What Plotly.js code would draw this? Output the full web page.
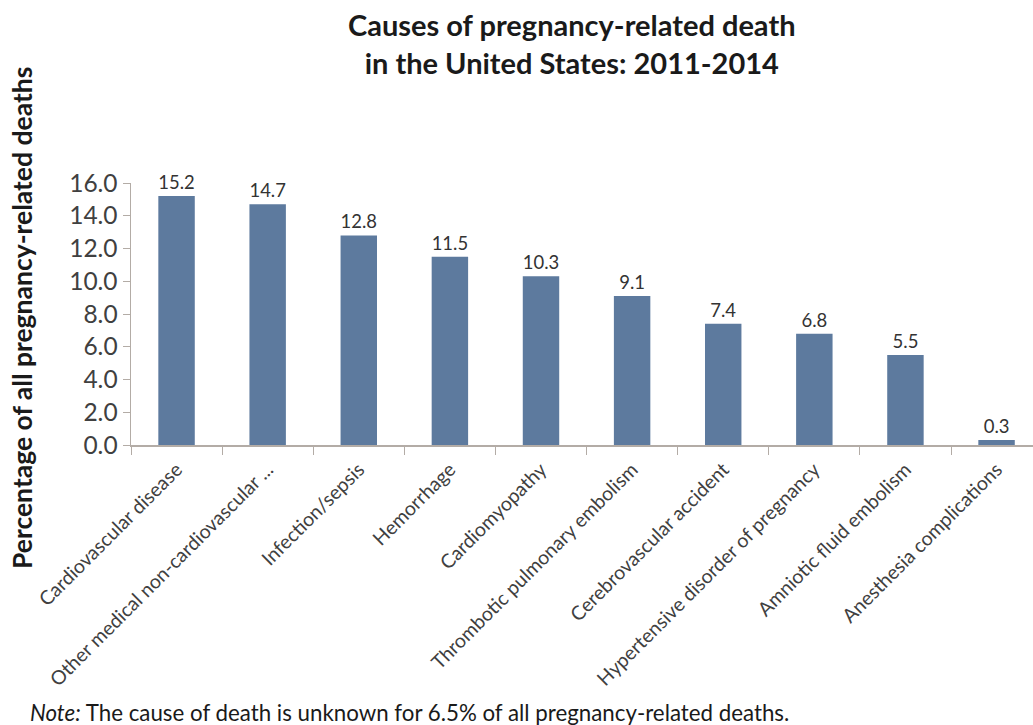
<!DOCTYPE html>
<html>
<head>
<meta charset="utf-8">
<script src="https://cdn.plot.ly/plotly-3.0.1.min.js"></script>
<style>html,body{margin:0;padding:0;background:#fff;}#chart{width:1033px;height:725px;}</style>
</head>
<body>
<div id="chart"></div>
<script>
const categories = [
  "Cardiovascular disease",
  "Other medical non-cardiovascular ...",
  "Infection/sepsis",
  "Hemorrhage",
  "Cardiomyopathy",
  "Thrombotic pulmonary embolism",
  "Cerebrovascular accident",
  "Hypertensive disorder of pregnancy",
  "Amniotic fluid embolism",
  "Anesthesia complications"
];
const values = [15.2, 14.7, 12.8, 11.5, 10.3, 9.1, 7.4, 6.8, 5.5, 0.3];
const yTickVals = [0, 2, 4, 6, 8, 10, 12, 14, 16];
const yTickText = ["0.0", "2.0", "4.0", "6.0", "8.0", "10.0", "12.0", "14.0", "16.0"];
const titleText = "Causes of pregnancy-related death<br>in the United States: 2011-2014";
const yTitleText = "Percentage of all pregnancy-related deaths";
const noteText = "<i>Note:</i> The cause of death is unknown for 6.5% of all pregnancy-related deaths.";

const FONT = "Lato, 'Open Sans', sans-serif";

const trace = {
  type: "bar",
  x: categories,
  y: values,
  marker: {color: "#5d7a9e"},
  text: values.map(v => v.toFixed(1)),
  textposition: "outside",
  textfont: {family: FONT, size: 18.5, color: "#333333"},
  cliponaxis: false,
  hoverinfo: "none"
};

const W = 1033, H = 725;
const L = 131, R = 0, T = 183, B = 280;
const pw = W - L - R, ph = H - T - B;

const layout = {
  width: W, height: H,
  margin: {l: L, r: R, t: T, b: B, pad: 0},
  paper_bgcolor: "#ffffff",
  plot_bgcolor: "#ffffff",
  showlegend: false,
  bargap: 0.6,
  font: {family: FONT, color: "#404040"},
  xaxis: {
    type: "category",
    range: [-0.5, 9.4],
    showgrid: false,
    zeroline: false,
    showline: true,
    linecolor: "#b3aca6",
    linewidth: 1.5,
    ticks: "outside",
    tickson: "boundaries",
    ticklen: 8,
    tickcolor: "#b3aca6",
    tickangle: -45,
    ticklabelstandoff: 4,
    tickfont: {family: FONT, size: 19.5, color: "#404040"},
    fixedrange: true
  },
  yaxis: {
    range: [0, 16],
    tickvals: yTickVals,
    ticktext: yTickText,
    showgrid: false,
    zeroline: false,
    showline: true,
    linecolor: "#b3aca6",
    linewidth: 1.5,
    ticks: "outside",
    ticklen: 7,
    tickcolor: "#b3aca6",
    tickfont: {family: FONT, size: 24.5, color: "#404040"},
    fixedrange: true
  },
  annotations: [
    {
      text: "<b>" + titleText.replace("<br>", "</b><br><b>") + "</b>",
      xref: "paper", yref: "paper",
      x: (572 - L) / pw, y: (H - B - 43) / ph,
      xanchor: "center", yanchor: "middle",
      showarrow: false,
      font: {family: FONT, size: 29, color: "#1a1a1a"}
    },
    {
      text: "<b>" + yTitleText + "</b>",
      xref: "paper", yref: "paper",
      x: (22 - L) / pw, y: (H - B - 318) / ph,
      xanchor: "center", yanchor: "middle",
      textangle: -90,
      showarrow: false,
      font: {family: FONT, size: 26.5, color: "#1a1a1a"}
    },
    {
      text: noteText,
      xref: "paper", yref: "paper",
      x: (28 - L) / pw, y: (H - B - 712) / ph,
      xanchor: "left", yanchor: "middle",
      showarrow: false,
      font: {family: FONT, size: 22.3, color: "#1a1a1a"}
    }
  ]
};

Plotly.newPlot("chart", [trace], layout, {displayModeBar: false, staticPlot: true});
</script>
</body>
</html>
